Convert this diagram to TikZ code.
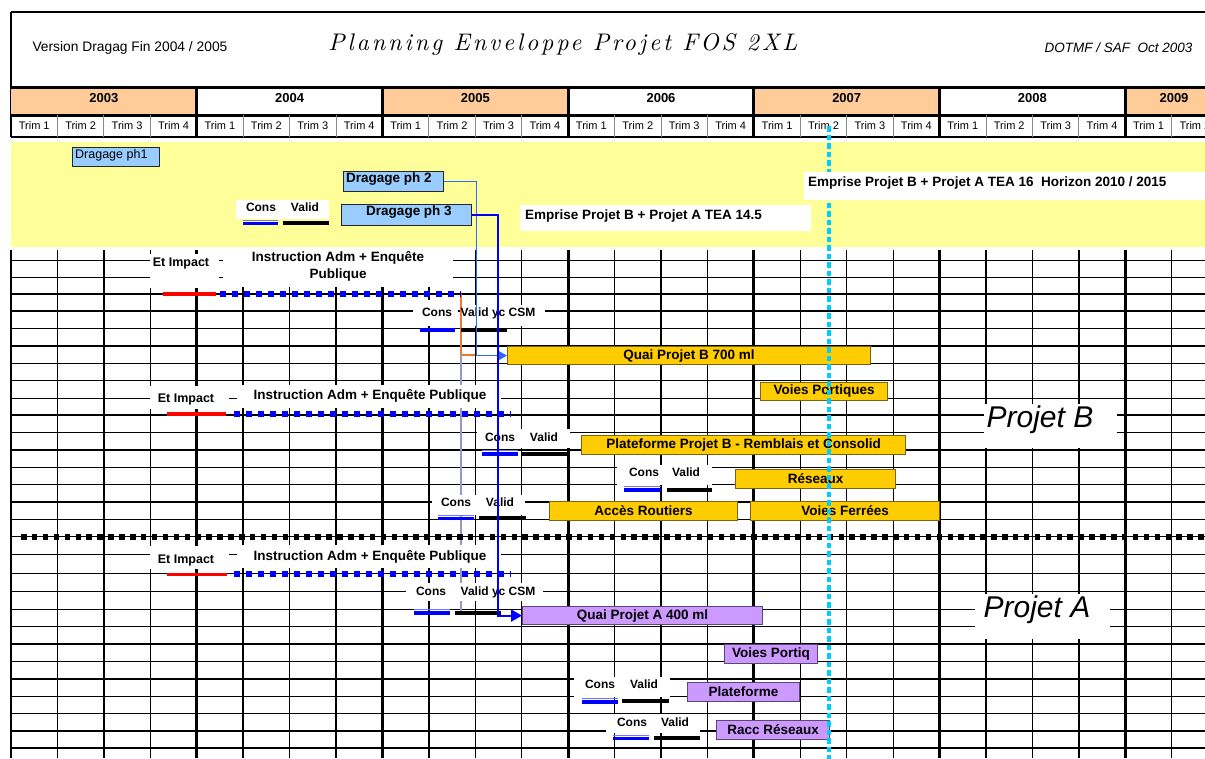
\documentclass[tikz,border=0pt]{standalone}
\usepackage{fontspec}
\setmainfont{Liberation Sans}
\newfontfamily\titlefont[LetterSpace=12]{lmroman10-italic.otf}
\usetikzlibrary{arrows.meta}
\definecolor{peach}{RGB}{255,204,153}
\definecolor{ylw}{RGB}{255,255,153}
\definecolor{lblue}{RGB}{153,204,255}
\definecolor{gold}{RGB}{255,204,0}
\definecolor{lilac}{RGB}{204,153,255}
\definecolor{cyanl}{RGB}{0,204,255}
\definecolor{medblue}{RGB}{51,102,255}
\definecolor{pureblue}{RGB}{0,0,255}
\definecolor{orangel}{RGB}{240,120,50}
\definecolor{grayl}{RGB}{150,150,200}
\definecolor{goldedge}{RGB}{120,100,20}
\definecolor{lilacedge}{RGB}{90,70,120}
\begin{document}
\begin{tikzpicture}[x=1pt,y=-1pt,
  lbl/.style={font=\bfseries\fontsize{13.5}{17}\selectfont, inner sep=0pt},
  sml/.style={font=\bfseries\fontsize{12}{14}\selectfont, inner sep=0pt},
  gthin/.style={line width=1.3pt, black},
  gthick/.style={line width=3pt, black},
  wbox/.style={fill=white},
  barB/.style={draw=goldedge, fill=gold, line width=1.2pt, inner sep=0pt, anchor=north west, font=\bfseries\fontsize{13.5}{16}\selectfont},
  barA/.style={barB, draw=lilacedge, fill=lilac},
  drag/.style={draw=black!85, fill=lblue, line width=1.3pt, inner sep=0pt, anchor=north west},
  consl/.style={line width=3.5pt, pureblue},
  consh/.style={line width=1pt, blue!55},
  validl/.style={line width=4pt, black},
  redl/.style={line width=3.5pt, red},
  bdots/.style={line width=6pt, pureblue, dash pattern=on 6pt off 6pt},
  sepl/.style={line width=6pt, black, dash pattern=on 5.5pt off 5.4pt},
  orangeline/.style={line width=1.6pt, orangel},
  grayline/.style={line width=1.6pt, grayl},
]
\useasboundingbox (0,0) rectangle (1205,758);
\clip (0,0) rectangle (1205,758);
\fill[white] (0,0) rectangle (1205,758);

% ---------- header ----------
\draw[line width=2.5pt] (11,12) -- (1210,12);
\draw[line width=2.5pt] (11,12) -- (11,137);
\node[anchor=west, font=\fontsize{13.8}{16}\selectfont] (version) at (29,48) {Version Dragag Fin 2004 / 2005};
\node[font=\titlefont\fontsize{24}{26}\selectfont] (title) at (563,44) {Planning Enveloppe Projet FOS 2XL};
\node[anchor=east, font=\itshape\fontsize{13.5}{16}\selectfont] (dotmf) at (1196,48) {DOTMF / SAF\ \ Oct 2003};

% ---------- years ----------
\foreach \k in {0,2,4,6}{
  \pgfmathsetmacro\xa{11+185.714*\k}
  \fill[peach] (\xa,87) rectangle ({\xa+185.714},115);
}
\draw[gthick] (11,87) -- (1210,87);
\draw[gthick] (11,115) -- (1210,115);
\draw[line width=1.5pt] (11,137) -- (1210,137);
\foreach \j in {1,...,25}{
  \pgfmathsetmacro\xx{11+46.4286*\j}
  \pgfmathtruncatemacro\m{mod(\j,4)}
  \ifnum\m=0
    \draw[gthick] (\xx,87) -- (\xx,137);
  \else
    \draw[line width=1pt, black!45] (\xx,115) -- (\xx,137);
  \fi
}
\foreach \k/\yr in {0/2003,1/2004,2/2005,3/2006,4/2007,5/2008}{
  \pgfmathsetmacro\xc{11+185.714*\k+92.857}
  \node[font=\bfseries\fontsize{13}{15}\selectfont] (yr\k) at (\xc,98) {\yr};
}
\node[font=\bfseries\fontsize{13}{15}\selectfont] (yr6) at (1174,98) {2009};
\foreach \j in {0,...,25}{
  \pgfmathsetmacro\xc{11+46.4286*(\j+0.5)}
  \pgfmathtruncatemacro\q{mod(\j,4)+1}
  \node[font=\fontsize{11}{12}\selectfont] (trim\j) at (\xc,125.5) {Trim \q};
}

% ---------- yellow band ----------
\fill[ylw] (11,142) rectangle (1210,247);
\node[drag, minimum width=87pt, minimum height=19pt] (ph1) at (72,147) {};
\node[anchor=west, font=\fontsize{12.5}{14}\selectfont, inner sep=0pt] (ph1t) at (75,155.5) {Dragage ph1};
\node[drag, minimum width=100pt, minimum height=20pt] (ph2) at (343,171) {};
\node[lbl, anchor=west] (ph2t) at (346,179) {Dragage ph 2};
\node[drag, minimum width=130pt, minimum height=21pt] (ph3) at (341,204) {};
\node[lbl] (ph3t) at (409,212) {Dragage ph 3};
\fill[wbox] (236,200) rectangle (329,219);
\node[sml] (consL) at (261,207) {Cons};
\node[sml] (validL) at (305,207) {Valid};
\draw[consl] (243,223.5) -- (278,223.5);
\draw[consh] (243,220) -- (278,220);
\draw[validl] (283,223) -- (329,223);
\node[fill=white, anchor=north west, minimum width=291pt, minimum height=26pt, inner sep=0pt] (emp145box) at (520,205) {};
\node[lbl, anchor=west] (emp145) at (525,216) {Emprise Projet B + Projet A TEA 14.5};

% ---------- grid ----------
\foreach \y in {260.5,277.5,294,311,328.5,346,363.2,380.7,398.2,415,432.8,450.1,467.6,484.7,502,519.3,536.7,554.3,573.5,591.5,609.2,626.7,644,661.3,679,696.3,713.7,731,748}{
  \draw[gthin] (11,\y) -- (1210,\y);
}
\draw[line width=2.5pt] (11,250) -- (11,758);
\foreach \j in {1,...,26}{
  \pgfmathsetmacro\xx{11+46.4286*\j}
  \pgfmathtruncatemacro\m{mod(\j,4)}
  \ifnum\m=0
    \draw[gthick] (\xx,250) -- (\xx,758);
  \else
    \draw[gthin] (\xx,250) -- (\xx,758);
  \fi
}

% ---------- under-lying connectors ----------
\coordinate (oS) at (461,294);
\coordinate (oC) at (461,355);
\coordinate (oE) at (475,355);
\coordinate (gE) at (461,612);
\draw[orangeline] (oS) -- (oC) -- (oE);
\draw[grayline] (oC) -- (gE);

% ---------- white label boxes ----------
\fill[wbox] (150,254) rectangle (219,288);
\fill[wbox] (223,249) rectangle (453,287);
\fill[wbox] (150,386) rectangle (229,409);
\fill[wbox] (237,385) rectangle (501,408);
\fill[wbox] (150,546) rectangle (229,569);
\fill[wbox] (237,545) rectangle (501,568);
\fill[wbox] (413,300) rectangle (458,326);
\fill[wbox] (462,305) rectangle (545,326);
\fill[wbox] (477,429) rectangle (570,448);
\fill[wbox] (617,465) rectangle (712,485);
\fill[wbox] (432,495) rectangle (525,515);
\fill[wbox] (406,583) rectangle (543,601);
\fill[wbox] (574,677) rectangle (670,697);
\fill[wbox] (606,714) rectangle (700,733);
\fill[wbox] (984,404) rectangle (1117,448);
\fill[wbox] (975,594) rectangle (1110,639);

\node[lbl, font=\bfseries\fontsize{12.5}{14}\selectfont] (etimp1) at (181,263) {Et Impact};
\node[lbl, align=center] (instr1) at (338,266) {Instruction Adm + Enquête\\Publique};
\node[lbl, font=\bfseries\fontsize{12.5}{14}\selectfont] (etimp2) at (186,399) {Et Impact};
\node[lbl] (instr2) at (370,395.5) {Instruction Adm + Enquête Publique};
\node[lbl, font=\bfseries\fontsize{12.5}{14}\selectfont] (etimp3) at (186,560) {Et Impact};
\node[lbl] (instr3) at (370,556.5) {Instruction Adm + Enquête Publique};

\node[sml] (consB1) at (437,312) {Cons};
\node[sml] (validB1) at (498,313.5) {Valid yc CSM};
\node[sml] (consB2) at (500,437) {Cons};
\node[sml] (validB2) at (544,437) {Valid};
\node[sml] (consB3) at (644,472.5) {Cons};
\node[sml] (validB3) at (686,472.5) {Valid};
\node[sml] (consB4) at (456,502) {Cons};
\node[sml] (validB4) at (500,502) {Valid};
\node[sml] (consA1) at (431,591) {Cons};
\node[sml] (validA1) at (498,592) {Valid yc CSM};
\node[sml] (consA2) at (600,684) {Cons};
\node[sml] (validA2) at (644,684) {Valid};
\node[sml] (consA3) at (632,722) {Cons};
\node[sml] (validA3) at (675,722) {Valid};

\node[font=\itshape\fontsize{30}{34}\selectfont, inner sep=0pt] (projB) at (1040,420) {Projet B};
\node[font=\itshape\fontsize{30}{34}\selectfont, inner sep=0pt] (projA) at (1037,610) {Projet A};

% ---------- procedure lines ----------
\draw[redl] (163,294) -- (216,294);
\draw[bdots] (220,294) -- (461,294);
\draw[redl] (166.5,414) -- (226,414);
\draw[bdots] (233.5,414) -- (511,414);
\draw[redl] (166.7,574.3) -- (227.3,574.3);
\draw[bdots] (233.5,574.3) -- (511,574.3);
\draw[sepl] (21,536.5) -- (1210,536.5);

\draw[consl] (420,330) -- (455,330);
\draw[validl] (461,330) -- (507,330);
\draw[consl] (482,454) -- (518,454);
\draw[consh] (482,450.5) -- (518,450.5);
\draw[validl] (522,453.5) -- (568,453.5);
\draw[consl] (624,490) -- (661,490);
\draw[consh] (624,486.5) -- (661,486.5);
\draw[validl] (667,489.5) -- (712,489.5);
\draw[consl] (438,518.5) -- (474,518.5);
\draw[consh] (438,515) -- (474,515);
\draw[validl] (479,518) -- (526,518);
\draw[consl] (414,613) -- (450,613);
\draw[consh] (414,609.5) -- (450,609.5);
\draw[validl] (455,612.5) -- (501,612.5);
\draw[consl] (582,702) -- (618,702);
\draw[consh] (582,698.5) -- (618,698.5);
\draw[validl] (622,701) -- (669,701);
\draw[consl] (613,738.5) -- (649,738.5);
\draw[consh] (613,735) -- (649,735);
\draw[validl] (654,738) -- (700,738);

% ---------- bars ----------
\node[barB, minimum width=363pt, minimum height=18pt] (quaiB) at (507,346) {Quai Projet B 700 ml};
\node[barB, minimum width=127pt, minimum height=18.5pt] (voiesPort) at (760,381.5) {Voies Portiques};
\node[barB, minimum width=324pt, minimum height=19pt] (platB) at (581,435) {Plateforme Projet B - Remblais et Consolid};
\node[barB, minimum width=160pt, minimum height=19pt] (reseaux) at (735,469) {Réseaux};
\node[barB, minimum width=188pt, minimum height=19pt] (acces) at (549,501) {Accès Routiers};
\node[barB, minimum width=189pt, minimum height=19pt] (voiesFer) at (750,501) {Voies Ferrées};
\node[barA, minimum width=240pt, minimum height=18pt] (quaiA) at (522,606) {Quai Projet A 400 ml};
\node[barA, minimum width=93pt, minimum height=18.5pt] (voiesPortiq) at (724,644) {Voies Portiq};
\node[barA, minimum width=112pt, minimum height=19pt] (platA) at (687,682) {Plateforme};
\node[barA, minimum width=113pt, minimum height=19pt] (racc) at (716,720) {Racc Réseaux};

% ---------- dredging connectors ----------
\draw[line width=1.6pt, medblue, -{Triangle[length=10pt,width=11pt]}] (ph2.east) -- ++(32,0) |- (quaiB.west);
\draw[line width=2pt, pureblue, -{Triangle[length=11pt,width=12pt]}] (ph3.east) -- ++(26,0) |- (quaiA.west);

% ---------- milestone ----------
\coordinate (cyT) at (829,126);
\coordinate (cyB) at (829,760);
\draw[cyanl, line width=4pt, dash pattern=on 5.5pt off 3pt] (cyT) -- (cyB);

\node[fill=white, anchor=north west, minimum width=405pt, minimum height=28pt, inner sep=0pt] (emp16box) at (804,172) {};
\node[lbl, anchor=west] (emp16) at (808,183.5) {Emprise Projet B + Projet A TEA 16\ \ Horizon 2010 / 2015};
\end{tikzpicture}
\end{document}
